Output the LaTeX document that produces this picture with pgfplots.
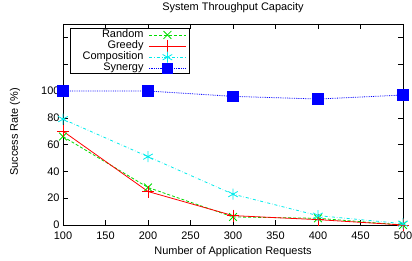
\documentclass[border=0pt]{standalone}
\usepackage{pgfplots}
\pgfplotsset{compat=1.18}
\usepackage{fontspec}
\setmainfont{Liberation Sans}
\definecolor{gpgreen}{RGB}{0,220,0}
\definecolor{gpcyan}{RGB}{0,235,235}
\begin{document}
\begin{tikzpicture}
\useasboundingbox (-63bp,-36bp) rectangle (349bp,225bp);
\begin{axis}[
  scale only axis, width=340bp, height=201bp,
  at={(0,0)}, anchor=south west,
  xmin=100, xmax=500, ymin=0, ymax=150,
  xtick={100,150,...,500},
  ytick={0,20,...,140},
  yticklabels={0,20,40,60,80,100,,},
  tick align=inside, major tick length=5bp,
  every tick/.style={black, line width=0.5pt},
  axis line style={line width=0.8pt},
  font=\fontsize{11}{12}\selectfont,
  /pgf/number format/assume math mode=true,
  xticklabel style={yshift=-3bp},
  title={System Throughput Capacity},
  every axis title/.style={at={(axis description cs:0.5,1.08)}, anchor=center},
  xlabel={Number of Application Requests},
  xlabel style={at={(axis description cs:0.5,-0.134)}, anchor=center},
  ylabel={Success Rate (\%)},
  ylabel style={at={(axis description cs:-0.141,0.463)}, anchor=center},
  legend style={at={(axis description cs:0.02,0.98)}, anchor=north west,
    draw=black, line width=0.8pt, inner xsep=1bp, inner ysep=0.5bp,
    row sep=0.2bp,
    nodes={inner sep=0.4bp, text height=7.0bp, text depth=2.1bp},
    font=\fontsize{11}{10}\selectfont},
  legend cell align=right,
  legend plot pos=right,
  legend image code/.code={%
    \pgfinterruptboundingbox
    \draw[mark repeat=2,mark phase=2,#1] plot coordinates {(5bp,0bp) (23.5bp,0bp) (42bp,0bp)};
    \endpgfinterruptboundingbox
    \pgfpathrectangle{\pgfpoint{0bp}{-2bp}}{\pgfpoint{44bp}{8bp}}\pgfusepath{discard}},
]
\addplot[gpgreen, densely dashed, line width=0.8pt, mark=x, mark size=5.5bp, mark options={solid}] coordinates {(100,66) (200,28) (300,6) (400,5) (500,0)};
\addlegendentry{Random}
\addplot[red, solid, line width=0.8pt, mark=+, mark size=6bp, mark options={solid}] coordinates {(100,70) (200,25) (300,7) (400,4) (500,0)};
\addlegendentry{Greedy}
\addplot[gpcyan, dash dot, line width=0.8pt, mark=asterisk, mark size=5.5bp, mark options={solid}] coordinates {(100,79) (200,51) (300,23) (400,7) (500,1)};
\addlegendentry{\hspace*{11bp}Composition}
\addplot[blue, densely dotted, line width=0.8pt, mark=square*, mark size=5.2bp, mark options={solid}] coordinates {(100,100) (200,100) (300,96) (400,94) (500,97)};
\addlegendentry{Synergy}
\end{axis}
\end{tikzpicture}
\end{document}
